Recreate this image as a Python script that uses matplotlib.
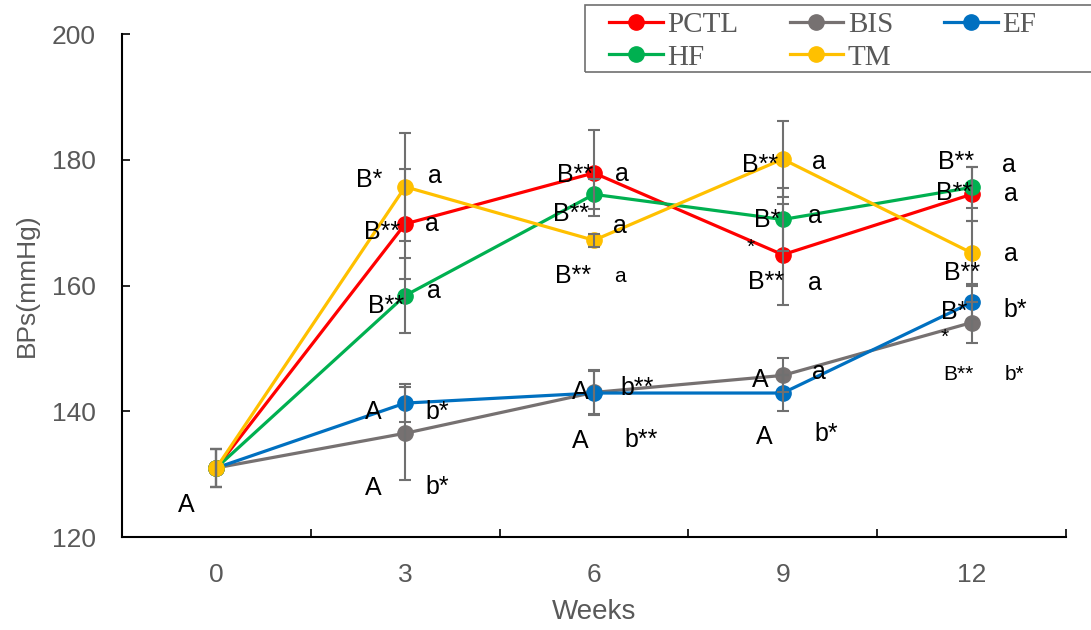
import matplotlib.pyplot as plt
from matplotlib.patches import Rectangle
import numpy as np

# categories (weeks)
weeks = ['0', '3', '6', '9', '12']

# series means (mmHg)
pctl = [131.0, 169.8, 177.9, 164.9, 174.5]
bis = [131.0, 136.5, 143.0, 145.7, 154.1]
ef = [131.0, 141.3, 142.9, 142.9, 157.3]
hf = [131.0, 158.4, 174.5, 170.5, 175.6]
tm = [131.0, 175.7, 167.2, 180.1, 165.2]

# error (SD)
pctl_err = [3.0, 8.7, 6.8, 8.0, 4.3]
bis_err = [3.0, 7.4, 3.5, 2.7, 3.3]
ef_err = [3.0, 3.0, 3.5, 2.9, 2.7]
hf_err = [3.0, 6.0, 2.4, 5.0, 3.3]
tm_err = [3.0, 8.6, 1.0, 6.0, 5.0]

series_names = ['PCTL', 'BIS', 'EF', 'HF', 'TM']
colors = ['#FF0000', '#767171', '#0070C0', '#00B050', '#FFC000']

# significance labels: (x category, y value, text, small)
labels_x = [-0.16,
            0.81, 1.16, 0.88, 1.14, 0.90, 1.15, 0.83, 1.17, 0.83, 1.17,
            1.90, 2.15, 1.88, 2.14, 1.89, 2.14, 1.93, 2.23, 1.93, 2.25,
            2.88, 3.19, 2.92, 3.17, 2.83, 2.91, 3.17, 2.88, 3.19, 2.90, 3.23,
            3.92, 4.20, 3.91, 4.21, 4.21, 3.95, 3.91, 4.23, 3.86, 3.93, 4.23]
labels_y = [125.1,
            176.8, 177.4, 168.5, 169.8, 156.7, 159.1, 139.9, 139.9, 127.8, 128.0,
            177.6, 177.7, 171.4, 169.5, 161.5, 161.5, 143.1, 143.7, 135.3, 135.4,
            179.2, 179.6, 170.4, 171.1, 166.1, 160.6, 160.4, 145.0, 146.2, 135.9, 136.4,
            179.6, 179.2, 174.7, 174.6, 165.0, 162.0, 155.8, 156.1, 151.7, 145.8, 145.9]
labels_txt = ['A',
              'B*', 'a', 'B**', 'a', 'B**', 'a', 'A', 'b*', 'A', 'b*',
              'B**', 'a', 'B**', 'a', 'B**', 'a', 'A', 'b**', 'A', 'b**',
              'B**', 'a', 'B*', 'a', '*', 'B**', 'a', 'A', 'a', 'A', 'b*',
              'B**', 'a', 'B**', 'a', 'a', 'B**', 'B*', 'b*', '*', 'B**', 'b*']
labels_small = [0] * len(labels_txt)
labels_small[16] = 1
labels_small[25] = 1
labels_small[40] = 1
labels_small[41] = 1
labels_small[42] = 1

plt.rcParams['font.family'] = ['Liberation Sans', 'DejaVu Sans']

fig = plt.figure(figsize=(10.91, 6.30), dpi=100)
ax = fig.add_axes([0.1118, 0.1476, 0.8652, 0.7984])

x = np.arange(len(weeks))
data = [pctl, bis, ef, hf, tm]
errs = [pctl_err, bis_err, ef_err, hf_err, tm_err]
handles = []
for i, (vals, err, name, col) in enumerate(zip(data, errs, series_names, colors)):
    h, = ax.plot(x, vals, color=col, lw=2.3, marker='o', markersize=11,
                 label=name, zorder=3 + i)
    handles.append(h)
    ax.errorbar(x, vals, yerr=err, fmt='none', ecolor='#707070', elinewidth=1.5,
                capsize=4.5, capthick=1.5, zorder=9)

for tx, ty, t, s in zip(labels_x, labels_y, labels_txt, labels_small):
    ax.text(tx, ty, t, ha='center', va='center', color='black',
            fontsize=15 if s else 18, zorder=12)

ax.set_xlim(-0.5, 4.5)
ax.set_ylim(120, 200)
ax.set_yticks([120, 140, 160, 180, 200])
ax.set_xticks(x)
ax.set_xticklabels(weeks)
ax.set_xticks(np.arange(-0.5, 4.6, 1.0), minor=True)
ax.tick_params(axis='x', which='major', length=0, pad=19, labelsize=19,
               labelcolor='#595959')
ax.tick_params(axis='x', which='minor', direction='in', length=6, width=1.2)
ax.tick_params(axis='y', direction='in', length=6, width=1.2, pad=19,
               labelsize=19, labelcolor='#595959')

for side in ['top', 'right']:
    ax.spines[side].set_visible(False)
for side in ['left', 'bottom']:
    ax.spines[side].set_linewidth(1.5)

ax.set_xlabel('Weeks', fontsize=20, color='#595959', labelpad=8)
ax.set_ylabel('BPs(mmHg)', fontsize=19, color='#595959', labelpad=9)

# legend frame, running off the right edge like the original
W, H = 1091.0, 630.0
fig.patches.append(Rectangle((585 / W, 1 - 72 / H), 520 / W, 67 / H,
                             transform=fig.transFigure, fill=False,
                             edgecolor='#707070', lw=1.2, clip_on=False))

# legend order so that columns fill as PCTL/HF, BIS/TM, EF
order = [0, 3, 1, 4, 2]
leg = fig.legend([handles[k] for k in order], [series_names[k] for k in order],
                 ncol=3, loc='upper left', bbox_to_anchor=(609 / W, 1 - 12 / H),
                 prop={'family': 'Liberation Serif', 'size': 21},
                 labelcolor='#595959', frameon=False,
                 handlelength=1.85, handletextpad=0.15,
                 columnspacing=1.75, borderpad=0, labelspacing=0.2,
                 borderaxespad=0)

fig.savefig('out.png', dpi=100)
